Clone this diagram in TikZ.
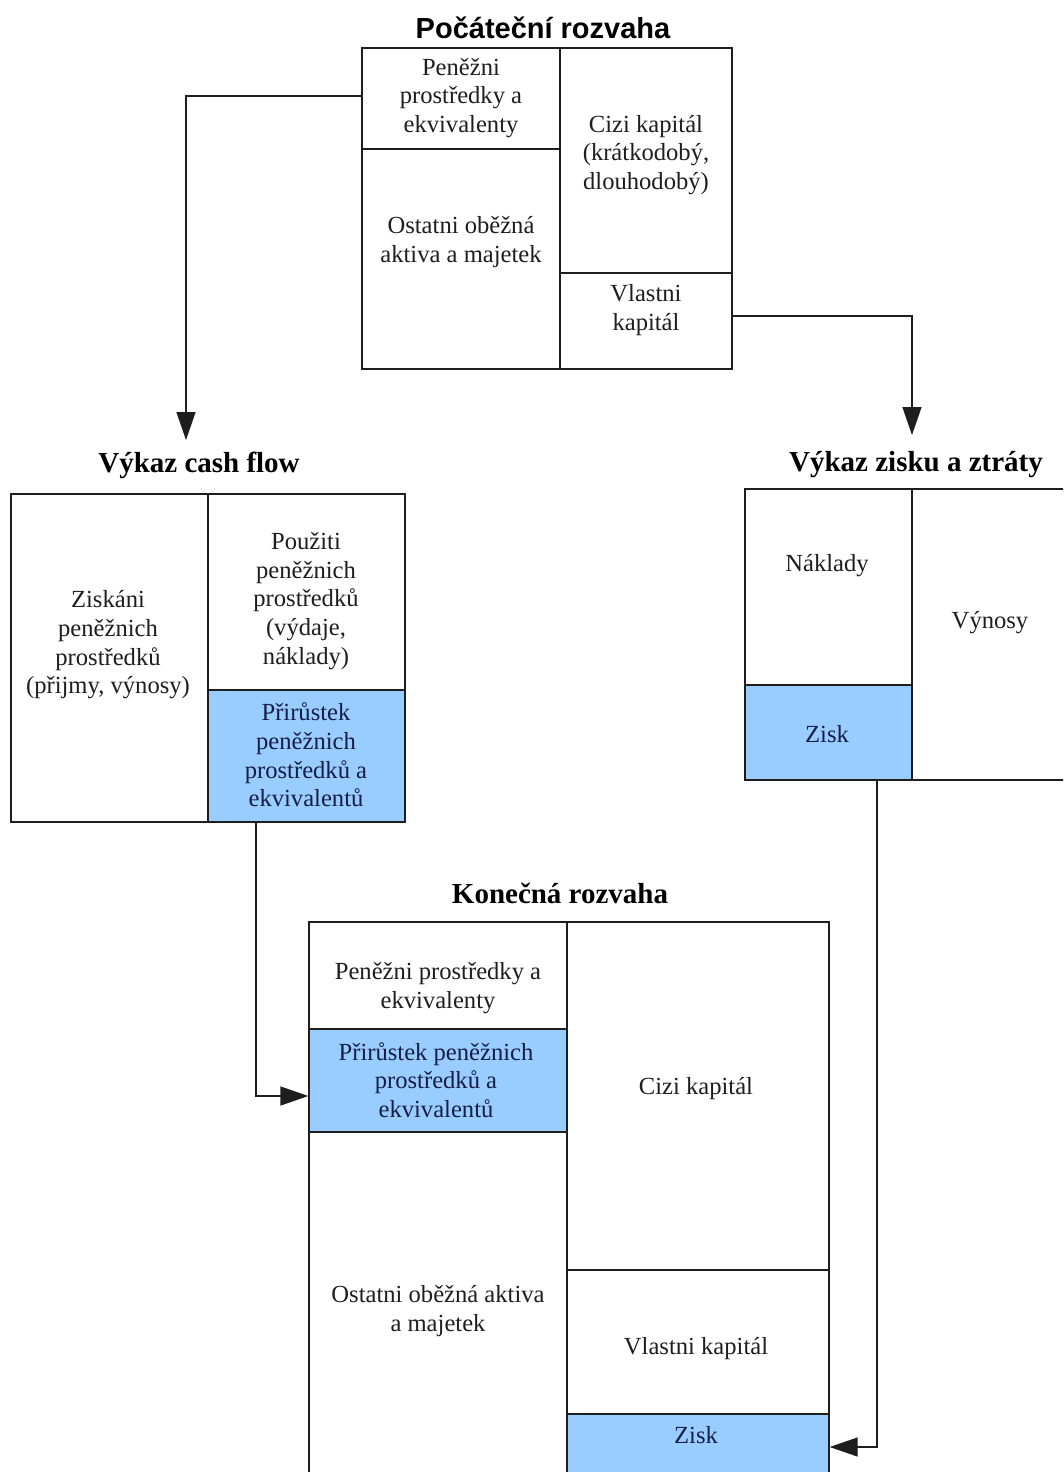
\documentclass[tikz,border=0pt]{standalone}
\usepackage{fontspec}
\setmainfont{Liberation Serif}
\newfontfamily\titlesans{Liberation Sans}
\usetikzlibrary{arrows.meta,fit}
\definecolor{cellblue}{RGB}{153,204,255}
\definecolor{inkgray}{RGB}{30,30,30}
\definecolor{inknavy}{RGB}{20,30,70}
\tikzset{
  cellbox/.style={draw=inkgray, line width=0.8pt, inner sep=0pt},
  bluebox/.style={cellbox, fill=cellblue},
  celltext/.style={align=center, inner sep=0pt, text=inkgray, font=\fontsize{14}{16.3}\selectfont},
  bluetext/.style={celltext, text=inknavy},
  titleserif/.style={inner sep=0pt, font=\bfseries\fontsize{16.5}{20}\selectfont},
  titlesansstyle/.style={inner sep=0pt, font=\titlesans\bfseries\fontsize{16.5}{20}\selectfont},
  conn/.style={draw=inkgray, line width=0.8pt, -{Triangle[length=0.56cm,width=0.38cm]}}
}
\begin{document}
\begin{tikzpicture}[x=0.02cm,y=-0.02cm]
\useasboundingbox (0,0) rectangle (1063,1472);
\clip (0,0) rectangle (1063,1472);
\fill[white] (0,0) rectangle (1063,1472);

% ---- Počáteční rozvaha
\node[titlesansstyle] (t1) at (543,28) {Počáteční rozvaha};
\node[cellbox, fit={(362,48) (560,149)}] (p1) {};
\node[cellbox, fit={(362,149) (560,369)}] (p2) {};
\node[cellbox, fit={(560,48) (732,273)}] (p3) {};
\node[cellbox, fit={(560,273) (732,369)}] (p4) {};
\node[celltext] (p1t) at (461,98) {Peněžni\\prostředky a\\ekvivalenty};
\node[celltext] (p2t) at (461,242) {Ostatni oběžná\\aktiva a majetek};
\node[celltext] (p3t) at (646,155) {Cizi kapitál\\(krátkodobý,\\dlouhodobý)};
\node[celltext] (p4t) at (646,310) {Vlastni\\kapitál};

% ---- Výkaz cash flow
\node[titleserif] (t2) at (199,465) {Výkaz cash flow};
\node[cellbox, fit={(11,494) (208,822)}] (c1) {};
\node[cellbox, fit={(208,494) (405,690)}] (c2) {};
\node[bluebox, fit={(208,690) (405,822)}] (c3) {};
\node[celltext] (c1t) at (108,645) {Ziskáni\\peněžnich\\prostředků\\(přijmy, výnosy)};
\node[celltext] (c2t) at (306,601) {Použiti\\peněžnich\\prostředků\\(výdaje,\\náklady)};
\node[bluetext] (c3t) at (306,755) {Přirůstek\\peněžnich\\prostředků a\\ekvivalentů};

% ---- Výkaz zisku a ztráty
\node[titleserif] (t3) at (916,465) {Výkaz zisku a ztráty};
\node[cellbox, fit={(745,489) (912,685)}] (z1) {};
\node[cellbox, fit={(912,489) (1068,780)}] (z2) {};
\node[bluebox, fit={(745,685) (912,780)}] (z3) {};
\node[celltext] (z1t) at (827,566) {Náklady};
\node[celltext] (z2t) at (990,623) {Výnosy};
\node[bluetext] (z3t) at (827,734) {Zisk};

% ---- Konečná rozvaha
\node[titleserif] (t4) at (560,893) {Konečná rozvaha};
\node[cellbox, fit={(309,922) (567,1029)}] (k1) {};
\node[bluebox, fit={(309,1029) (567,1132)}] (k2) {};
\node[cellbox, fit={(309,1132) (567,1490)}] (k3) {};
\node[cellbox, fit={(567,922) (829,1270)}] (k4) {};
\node[cellbox, fit={(567,1270) (829,1414)}] (k5) {};
\node[bluebox, fit={(567,1414) (829,1490)}] (k6) {};
\node[celltext] (k1t) at (438,988) {Peněžni prostředky a\\ekvivalenty};
\node[bluetext] (k2t) at (436,1080) {Přirůstek peněžnich\\prostředků a\\ekvivalentů};
\node[celltext] (k3t) at (438,1311) {Ostatni oběžná aktiva\\a majetek};
\node[celltext] (k4t) at (696,1089) {Cizi kapitál};
\node[celltext] (k5t) at (696,1349) {Vlastni kapitál};
\node[bluetext] (k6t) at (696,1435) {Zisk};

% ---- connectors
\coordinate (a1) at (186,440);
\coordinate (a2) at (912,435);
\coordinate (s3) at (256,822);
\coordinate (e3) at (309,1096);
\coordinate (zx) at (877,1447);
\draw[conn] (p1.west |- 0,96) -| (a1);
\draw[conn] (p4.east |- 0,316) -| (a2);
\draw[conn] (c3.south -| s3) |- (k2.west |- e3);
\draw[conn] (z3.south -| zx) |- (k6.east |- zx);
\end{tikzpicture}
\end{document}
